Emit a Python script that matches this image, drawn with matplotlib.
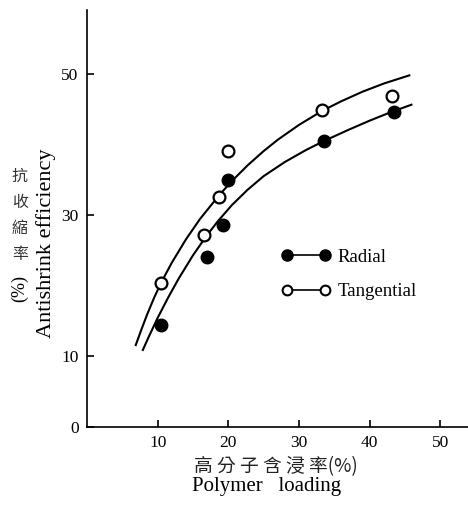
import matplotlib
matplotlib.use('Agg')
import matplotlib.pyplot as plt
from matplotlib.lines import Line2D

######################################################################
# Data
radial_x = [10.4, 17.0, 19.2, 20.0, 33.5, 43.5]      # filled circles
radial_y = [14.4, 24.1, 28.6, 35.0, 40.4, 44.6]
tang_x = [10.5, 16.6, 18.7, 20.0, 33.3, 43.1]        # open circles
tang_y = [20.4, 27.1, 32.6, 39.0, 44.9, 46.9]

# points
rad_curve_x = [7.9, 8.8, 10.0, 11.5, 13.0, 15.0, 16.8, 18.5, 20.5, 22.7,
               25.0, 28.0, 31.0, 33.6, 37.0, 40.0, 43.0, 45.9]
rad_curve_y = [10.9, 12.9, 15.45, 18.35, 21.05, 24.3, 26.9, 29.1, 31.4, 33.55,
               35.5, 37.5, 39.2, 40.5, 42.05, 43.35, 44.55, 45.6]
tang_curve_x = [6.9, 7.7, 8.5, 9.5, 10.5, 12.0, 14.0, 16.0, 18.7, 20.5,
                22.7, 25.0, 27.0, 30.0, 33.3, 36.0, 39.0, 42.0, 45.6]
tang_curve_y = [11.6, 13.8, 15.9, 18.3, 20.45, 23.25, 26.55, 29.45, 32.8, 34.8,
                37.0, 39.05, 40.65, 42.75, 44.75, 46.1, 47.45, 48.6, 49.75]

xticks = [10, 20, 30, 40, 50]
yticks = [0, 10, 30, 50]
labels = ['Radial', 'Tangential']

SERIF = 'Liberation Serif'
CJK = ['Noto Sans CJK TC', 'DejaVu Sans']

######################################################################
fig = plt.figure(figsize=(4.68, 5.08), dpi=100)
ax = fig.add_axes([87 / 468, 81 / 508, (468 - 87) / 468, 417 / 508])

ax.plot(tang_curve_x, tang_curve_y, color='black', lw=1.5)  # tangential fit
ax.plot(rad_curve_x, rad_curve_y, color='black', lw=1.5)    # radial fit
ax.plot(radial_x, radial_y, 'o', ms=9, color='black', zorder=3)
ax.plot(tang_x, tang_y, 'o', ms=8.5, mfc='white', mec='black', mew=1.6, zorder=3)

ax.set_xlim(0, 53.9)
ax.set_ylim(0, 59)
for side in ['top', 'right']:
    ax.spines[side].set_visible(False)
for side in ['left', 'bottom']:
    ax.spines[side].set_linewidth(1.2)
ax.set_xticks(xticks)
ax.set_yticks(yticks)
ax.tick_params(direction='in', length=5, width=1.2, labelsize=12.5, pad=6)
for t in ax.get_xticklabels() + ax.get_yticklabels():
    t.set_fontfamily(SERIF)

# legend: two markers joined by a short line
handles = [Line2D([], [], color='black', lw=1.2, marker='o', ms=8),
           Line2D([], [], color='black', lw=1.2, marker='o', ms=7,
                  mfc='white', mew=1.5)]
ax.legend(handles, labels, numpoints=2, frameon=False, loc='upper left',
          bbox_to_anchor=(0.466, 0.468), handlelength=2.6, handletextpad=0.4,
          labelspacing=0.93, prop={'family': SERIF, 'size': 13.5})

# y axis labels
fig.text(46 / 468, 1 - 243 / 508, 'Antishrink efficiency', rotation=90,
         ha='center', va='center', family=SERIF, size=16)
for i, ch in enumerate('抗收縮率'):
    fig.text(20 / 468, 1 - (176 + 26 * i) / 508, ch, ha='center', va='center',
             family=CJK, size=11.5, color='#333333')
fig.text(20 / 468, 1 - 289 / 508, '(%)', rotation=90, ha='center', va='center',
         family=SERIF, size=13)

# x axis labels
fig.text(276 / 468, 1 - 467 / 508, '高 分 子 含 浸 率(%)', ha='center',
         va='center', family=CJK, size=13.5, color='#222222')
fig.text(267 / 468, 1 - 487 / 508, 'Polymer   loading', ha='center',
         va='center', family=SERIF, size=15)

fig.savefig('out.png', dpi=100)
